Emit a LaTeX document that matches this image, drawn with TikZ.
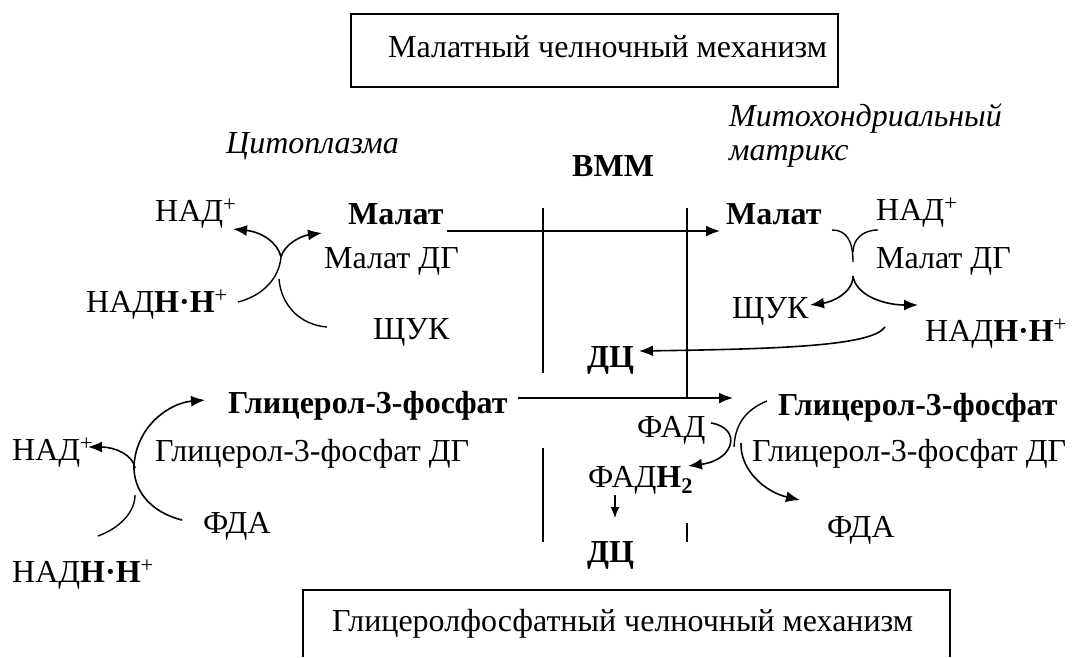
\documentclass[tikz,border=0pt]{standalone}
\usepackage{fontspec}
\setmainfont{Liberation Serif}
\usetikzlibrary{arrows.meta}
\begin{document}
\begin{tikzpicture}[x=1pt,y=-1pt,
  font=\fontsize{32}{36}\selectfont,
  lbl/.style={anchor=base west, inner sep=0pt},
  ar/.style={line width=1.6pt, -{Latex[length=14pt,width=11pt]}},
  ln/.style={line width=1.6pt},
  cv/.style={line width=1.4pt},
  cva/.style={line width=1.6pt, -{Latex[length=14pt,width=11pt]}}]
\useasboundingbox (0,0) rectangle (1072,657);
% title boxes
\draw[line width=1.2pt] (351,14) rectangle (838,87);
\node[lbl] (t1) at (388,57) {Малатный челночный механизм};
\draw[line width=1.2pt] (303,657) -- (303,590) -- (950,590) -- (950,657);
\node[lbl] (t2) at (332,631) {Глицеролфосфатный челночный механизм};
% compartments
\node[lbl] (cyto) at (226,153) {\itshape Цитоплазма};
\node[lbl] (mito1) at (729,126) {\itshape Митохондриальный};
\node[lbl] (mito2) at (729,160) {\itshape матрикс};
\node[lbl] (vmm) at (572,176) {\bfseries ВММ};
% membrane lines
\coordinate (m1a) at (543,208); \coordinate (m1b) at (543,373);
\coordinate (m2a) at (687,208); \coordinate (m2b) at (687,398);
\coordinate (m3a) at (543,448); \coordinate (m3b) at (543,542);
\coordinate (m4a) at (687,523); \coordinate (m4b) at (687,542);
\draw[ln] (m1a) -- (m1b);
\draw[ln] (m2a) -- (m2b);
\draw[ln] (m3a) -- (m3b);
\draw[ln] (m4a) -- (m4b);
% ---- malate shuttle, cytoplasm
\node[lbl] (nadL) at (155,221) {НАД\textsuperscript{+}};
\node[lbl] (malL) at (348,224) {\bfseries Малат};
\node[lbl] (mdgL) at (324,268) {Малат ДГ};
\node[lbl] (nadhL) at (86,312) {НАД\textbf{Н·Н}\textsuperscript{+}};
\node[lbl] (shukL) at (373,339) {ЩУК};
\coordinate (jL) at (281,257);
\coordinate (nadhLs) at (238,302);
\coordinate (malLt) at (322,233);
\coordinate (nadLt) at (233,229);
\coordinate (shukLa) at (279,279);
\coordinate (shukLb) at (327,327);
\draw[cv] (nadhLs) .. controls (262,296) and (279,279) .. (jL);
\draw[cva] (jL) .. controls (284,245) and (300,236) .. (malLt);
\draw[cva] (jL) .. controls (278,243) and (262,232) .. (nadLt);
\draw[cv] (shukLa) .. controls (281,305) and (300,325) .. (shukLb);
% transport of malate
\coordinate (malA) at (447,231);
\coordinate (malB) at (720,231);
\draw[ar] (malA) -- (malB);
% ---- malate shuttle, matrix
\node[lbl] (malR) at (726,224) {\bfseries Малат};
\node[lbl] (nadR) at (876,220) {НАД\textsuperscript{+}};
\node[lbl] (mdgR) at (876,268) {Малат ДГ};
\node[lbl] (shukR) at (732,318) {ЩУК};
\node[lbl] (nadhR) at (925,341) {НАД\textbf{Н·Н}\textsuperscript{+}};
\node[lbl] (dc1) at (587,367) {\bfseries ДЦ};
\coordinate (yL) at (832,230);
\coordinate (yR) at (878,230);
\coordinate (yS) at (853,262);
\coordinate (yM) at (853,252);
\coordinate (yD) at (853,276);
\coordinate (shukRt) at (810,305);
\coordinate (nadhRt) at (918,305);
\coordinate (dcs) at (885,327);
\coordinate (dct) at (639,351);
\draw[cv] (yL) .. controls (846,230) and (853,240) .. (yS);
\draw[cv] (yR) .. controls (862,230) and (853,240) .. (yM);
\draw[cva] (yD) .. controls (853,293) and (832,302) .. (shukRt);
\draw[cva] (yD) .. controls (856,296) and (885,305) .. (nadhRt);
\draw[cva] (dcs) .. controls (872,346) and (780,349) .. (dct);
% ---- glycerol phosphate shuttle, cytoplasm
\node[lbl] (g3pL) at (228,413) {\bfseries Глицерол-3-фосфат};
\node[lbl] (nadL2) at (12,460) {НАД\textsuperscript{+}};
\node[lbl] (gdgL) at (155,461) {Глицерол-3-фосфат ДГ};
\node[lbl] (fdaL) at (203,533) {ФДА};
\node[lbl] (nadhL2) at (12,582) {НАД\textbf{Н·Н}\textsuperscript{+}};
\coordinate (fdaLs) at (182,520);
\coordinate (g3pLt) at (205,400);
\coordinate (nadhL2s) at (98,536);
\coordinate (nadhL2m) at (135,495);
\coordinate (nadL2s) at (135,468);
\coordinate (nadL2t) at (88,447);
\draw[cva] (fdaLs) .. controls (150,512) and (133,490) .. (134,465) .. controls (137,425) and (170,403) .. (g3pLt);
\draw[cv] (nadhL2s) .. controls (120,528) and (135,512) .. (nadhL2m);
\draw[cva] (nadL2s) .. controls (133,455) and (115,447) .. (nadL2t);
% transport of glycerol-3-phosphate
\coordinate (gA) at (518,398);
\coordinate (gB) at (733,398);
\draw[ar] (gA) -- (gB);
% ---- glycerol phosphate shuttle, mitochondria
\node[lbl] (g3pR) at (778,415) {\bfseries Глицерол-3-фосфат};
\node[lbl] (fad) at (637,437) {ФАД};
\node[lbl] (gdgR) at (752,461) {Глицерол-3-фосфат ДГ};
\node[lbl] (fadh) at (588,487) {ФАД\textbf{Н\textsubscript{2}}};
\node[lbl] (fdaR) at (827,537) {ФДА};
\node[lbl] (dc2) at (587,562) {\bfseries ДЦ};
\coordinate (fads) at (711,423);
\coordinate (fadht) at (688,466);
\coordinate (g3pRs) at (767,401);
\coordinate (g3pRm) at (734,447);
\coordinate (fdaRs) at (741,443);
\coordinate (fdaRt) at (800,500);
\coordinate (dcA) at (615,495);
\coordinate (dcB) at (615,518);
\draw[cva] (fads) .. controls (742,428) and (735,460) .. (fadht);
\draw[cv] (g3pRs) .. controls (745,410) and (735,425) .. (g3pRm);
\draw[cva] (fdaRs) .. controls (740,470) and (765,492) .. (fdaRt);
\draw[line width=1.6pt, -{Latex[length=11pt,width=9pt]}] (dcA) -- (dcB);
\end{tikzpicture}
\end{document}
